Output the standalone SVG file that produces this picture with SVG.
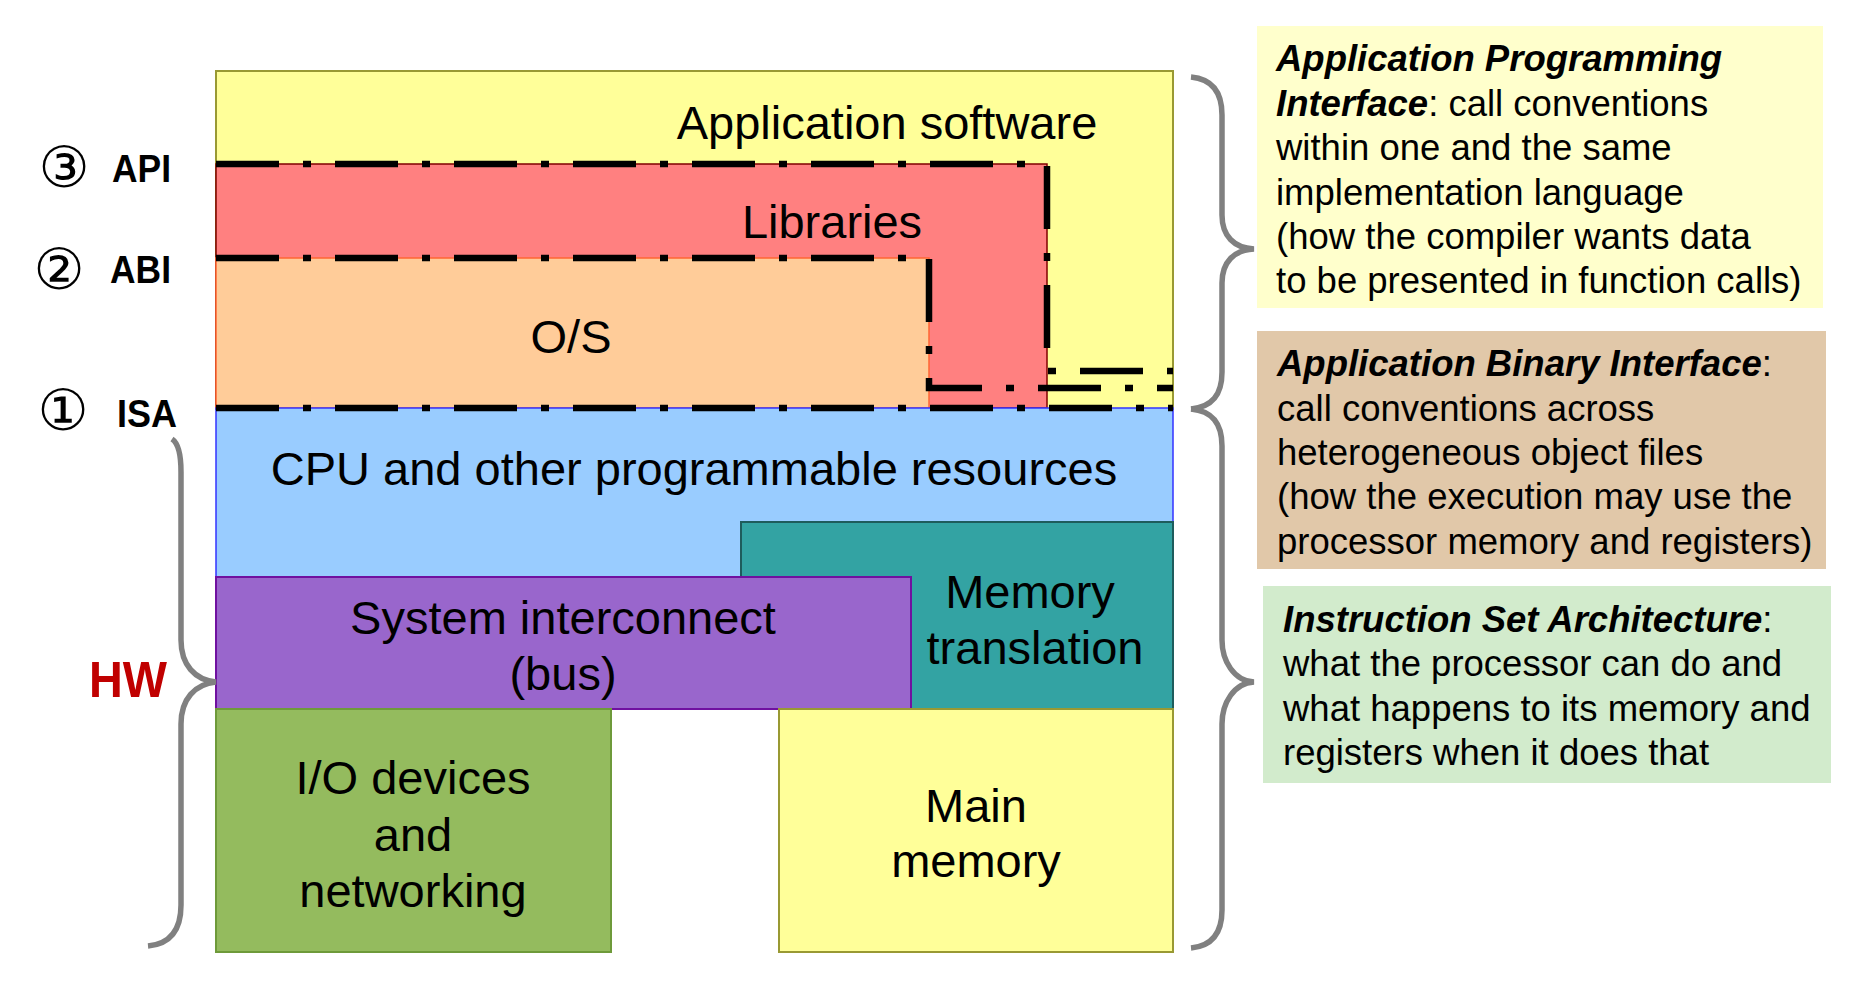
<svg xmlns="http://www.w3.org/2000/svg" width="1859" height="999" viewBox="0 0 1859 999">
<style>
.lbl{font-family:"Liberation Sans",Arial,sans-serif;font-size:47px;fill:#000;text-anchor:middle}
.note{font-family:"Liberation Sans",Arial,sans-serif;font-size:36.5px;fill:#000}
.bi{font-weight:bold;font-style:italic}
.side{font-family:"Liberation Sans",Arial,sans-serif;font-weight:bold;font-size:38px;fill:#000}
.circ{font-family:"DejaVu Sans",sans-serif;font-size:57px;fill:#000;text-anchor:middle}
.iface{fill:none;stroke:#000;stroke-width:6.5;stroke-dasharray:63 24 8 24;stroke-linejoin:miter}
.brace{fill:none;stroke:#808080;stroke-width:5.5;stroke-linecap:butt}
</style>
<rect width="1859" height="999" fill="#fff"/>
<g id="app"><rect x="216" y="71" width="957" height="338" fill="#FFFF99" stroke="#999933" stroke-width="2"/>
<text class="lbl" x="887" y="139">Application software</text></g>
<g id="libraries"><rect x="216" y="164" width="831" height="244" fill="#FF8080" stroke="#800000" stroke-width="1.5"/>
<text class="lbl" x="832" y="238">Libraries</text></g>
<g id="os"><rect x="216" y="258" width="713" height="150" fill="#FFCC99" stroke="#FF6633" stroke-width="1.5"/>
<text class="lbl" x="571" y="353">O/S</text></g>
<g id="cpu"><rect x="216" y="408" width="957" height="169" fill="#99CCFF" stroke="#3333FF" stroke-width="1.5"/>
<text class="lbl" x="694" y="485">CPU and other programmable resources</text></g>
<g id="memtrans"><rect x="741" y="522" width="432" height="187" fill="#33A3A3" stroke="#1E5C5C" stroke-width="2"/>
<text class="lbl" x="1030" y="608">Memory</text><text class="lbl" x="1035" y="664">translation</text></g>
<g id="bus"><rect x="216" y="577" width="695" height="132" fill="#9966CC" stroke="#7010A0" stroke-width="2"/>
<text class="lbl" x="563" y="634">System interconnect</text><text class="lbl" x="563" y="690">(bus)</text></g>
<g id="io"><rect x="216" y="709" width="395" height="243" fill="#94BB5E" stroke="#6E9A3A" stroke-width="2"/>
<text class="lbl" x="413" y="794">I/O devices</text><text class="lbl" x="413" y="851">and</text><text class="lbl" x="413" y="907">networking</text></g>
<g id="mainmem"><rect x="779" y="709" width="394" height="243" fill="#FFFF99" stroke="#999933" stroke-width="2"/>
<text class="lbl" x="976" y="822">Main</text><text class="lbl" x="976" y="877">memory</text></g>
<g id="connectors">
<path class="iface" d="M216,164 H1047 V371 H1173"/>
<path class="iface" d="M216,258 H929 V388 H1173"/>
<path class="iface" d="M216,408 H1173"/>
<path class="brace" d="M1191,77 C1212,79 1222,92 1222,115 V215 C1222,236 1234,248 1254,249 C1234,250 1222,262 1222,283 V372 C1222,395 1212,407 1191,409"/>
<path class="brace" d="M1191,409 C1212,411 1222,423 1222,446 V640 C1222,661 1234,681 1254,682 C1234,683 1222,703 1222,724 V910 C1222,933 1212,946 1191,948"/>
<path class="brace" d="M172,439 C178,443 181,455 181,472 V640 C181,665 195,680 216,682 C195,684 181,699 181,724 V905 C181,930 170,944 148,946"/>
</g>
<g id="levels">
<text class="circ" x="64" y="187">③</text><text class="side" x="112" y="182" textLength="59" lengthAdjust="spacingAndGlyphs">API</text>
<text class="circ" x="59" y="289">②</text><text class="side" x="110" y="283" textLength="61" lengthAdjust="spacingAndGlyphs">ABI</text>
<text class="circ" x="63" y="430">①</text><text class="side" x="117" y="427" textLength="60" lengthAdjust="spacingAndGlyphs">ISA</text>
<text x="89" y="697" font-family="Liberation Sans,Arial,sans-serif" font-weight="bold" font-size="50" fill="#C00000" textLength="78" lengthAdjust="spacingAndGlyphs">HW</text>
</g>
<g id="api-note"><rect x="1257" y="26" width="566" height="282" fill="#FFFFCC"/>
<text class="note" x="1276"><tspan x="1276" y="71" class="bi">Application Programming</tspan><tspan x="1276" y="116"><tspan class="bi">Interface</tspan>: call conventions</tspan><tspan x="1276" y="160">within one and the same</tspan><tspan x="1276" y="205">implementation language</tspan><tspan x="1276" y="249">(how the compiler wants data</tspan><tspan x="1276" y="293">to be presented in function calls)</tspan></text></g>
<g id="abi-note"><rect x="1257" y="331" width="569" height="238" fill="#E1C8A9"/>
<text class="note"><tspan x="1277" y="376"><tspan class="bi">Application Binary Interface</tspan>:</tspan><tspan x="1277" y="421">call conventions across</tspan><tspan x="1277" y="465">heterogeneous object files</tspan><tspan x="1277" y="509">(how the execution may use the</tspan><tspan x="1277" y="554">processor memory and registers)</tspan></text></g>
<g id="isa-note"><rect x="1263" y="586" width="568" height="197" fill="#D2EBCC"/>
<text class="note"><tspan x="1283" y="632"><tspan class="bi">Instruction Set Architecture</tspan>:</tspan><tspan x="1283" y="676">what the processor can do and</tspan><tspan x="1283" y="721">what happens to its memory and</tspan><tspan x="1283" y="765">registers when it does that</tspan></text></g>
</svg>
